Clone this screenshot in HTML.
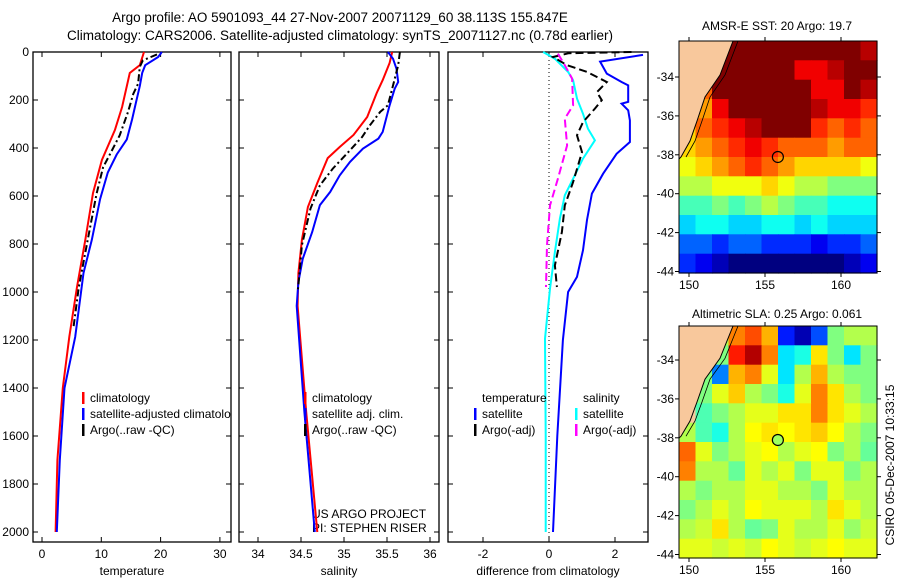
<!DOCTYPE html>
<html><head><meta charset="utf-8"><style>
body{margin:0;background:#fff;}
svg text{font-family:"Liberation Sans",sans-serif;font-size:12px;fill:#000;}
</style></head><body>
<svg id="c" width="900" height="580" xmlns="http://www.w3.org/2000/svg">
<defs><clipPath id="p1clip"><rect x="33" y="52" width="198" height="490"/></clipPath></defs>
<text x="340" y="22" text-anchor="middle" style="font-size:13.5px">Argo profile: AO 5901093_44 27-Nov-2007 20071129_60 38.113S 155.847E</text>
<text x="340" y="40" text-anchor="middle" style="font-size:13.5px">Climatology: CARS2006. Satellite-adjusted climatology: synTS_20071127.nc (0.78d earlier)</text>
<text x="777" y="30" text-anchor="middle">AMSR-E SST: 20 Argo: 19.7</text>
<text x="777" y="318" text-anchor="middle">Altimetric SLA: 0.25 Argo: 0.061</text>
<text transform="translate(894,465) rotate(-90)" text-anchor="middle">CSIRO 05-Dec-2007 10:33:15</text>
<text x="312" y="518">US ARGO PROJECT</text>
<text x="312" y="532">PI: STEPHEN RISER</text>
</svg>
<script>
// ---- data ----
const depthTicks=[0,200,400,600,800,1000,1200,1400,1600,1800,2000];
const tempTicks=[0,10,20,30];
const salTicks=[34,34.5,35,35.5,36];
const diffTicks=[-2,0,2];
const tempClimD=[0,55,87,229,325,450,588,783,979,1187,1400,1700,2000];
const tempClim=[17.2,16.5,14.8,13.5,12.3,10.1,8.6,7.3,5.9,4.6,3.5,2.6,2.3];
const tempSatD=[0,21,55,87,142,204,281,364,427,502,613,783,921,1187,1400,1700,2000];
const tempSat=[20.2,19.6,17.4,16.9,16.5,15.9,15.2,14.3,12.6,11.1,9.8,8.4,7.0,5.6,3.8,3.0,2.5];
const tempArgoD=[10,35,62,132,174,250,347,424,480,590,770,980,1150];
const tempArgo=[19.4,17.0,16.5,16.2,15.4,14.5,13.1,11.5,10.3,9.2,7.8,6.2,5.3];
const salClimD=[0,46,117,171,271,346,396,442,546,646,783,921,1058,1500,2000];
const salClim=[35.56,35.53,35.45,35.38,35.27,35.11,34.95,34.81,34.69,34.58,34.51,34.47,34.46,34.56,34.69];
const salSatD=[0,28,70,125,153,222,333,361,403,458,514,583,638,750,862,958,1058,1500,2000];
const salSat=[35.51,35.57,35.61,35.63,35.59,35.53,35.45,35.40,35.22,35.07,34.95,34.84,34.72,34.63,34.52,34.47,34.45,34.54,34.66];
const salArgoD=[0,55,153,222,250,306,354,417,486,556,652,805,972,1000];
const salArgo=[35.65,35.63,35.56,35.51,35.42,35.30,35.21,35.05,34.87,34.72,34.61,34.51,34.47,34.46];
const dTSatD=[12,40,90,125,139,208,215,243,285,375,424,507,590,700,826,937,1000,1200,1600,2000];
const dTSat=[2.85,1.55,1.75,2.2,2.4,2.4,2.2,2.4,2.45,2.45,2.05,1.64,1.3,1.15,1.03,0.85,0.58,0.42,0.25,0.12];
const dSSatD=[0,28,83,118,194,257,319,368,444,528,597,694,833,986,1194,1600,2000];
const dSSat=[-0.18,0.18,0.58,0.73,0.85,1.03,1.18,1.39,1.03,0.73,0.48,0.33,0.18,0.03,-0.12,-0.1,-0.1];
const dTArgoD=[0,5,21,55,83,125,167,201,236,292,347,417,542,639,750,889,979];
const dTArgo=[2.5,0.6,0.12,0.55,1.15,1.75,1.45,1.6,1.39,1.03,0.85,1.0,0.73,0.48,0.39,0.18,0.24];
const dSArgoD=[7,55,111,222,278,389,528,639,805,979];
const dSArgo=[0.27,0.48,0.7,0.73,0.48,0.55,0.27,0.03,-0.06,-0.09];
const lonTicks=[150,155,160];
const latTicks=[-34,-36,-38,-40,-42,-44];
const sstGrid=[
[null,null,21,21,21,21,21,21,21,21,21,20.5],
[null,null,21,21,21,21,21,20,20,20.5,21,21],
[null,19,21,21,21,21,21,21,20,20,21,20.5],
[null,18.5,20,21,21,21,21,21,20.5,20,20,19.5],
[18,19,19.5,20,20.5,21,21,21,19.5,19,19.5,19],
[18,18.5,19,19.5,20,19.5,19,19,19,18.5,19,19],
[17.5,18,18.5,19,19.5,19,18.5,18,18,18,18,17.5],
[17,17,17.5,17.5,17.5,18,17.5,17,17,16.5,16.5,16.5],
[16,16,16.5,16,16.5,17,16.5,16,16,15.5,15.5,15.5],
[15,15.5,15.5,15,15,15.5,15.5,15,15.5,15,15,15],
[14,14,13.5,14,14,13.5,13.5,13.5,13,13.5,13.5,14],
[13.5,13,12.5,12,12,11.5,11.5,12,12,12,12.5,13]];
const slaGrid=[
[null,null,0.1,0.5,0.6,0.4,-0.7,-0.9,-0.6,0,0.1,0.1],
[null,null,0,0.7,0.9,0.5,-0.3,-0.2,0.3,0,-0.3,0],
[null,0,-0.5,0.4,0.5,0.2,-0.3,0.1,0.4,0.1,0,0],
[null,0,0.2,0.35,0.1,0,-0.2,0.2,0.5,0.3,0.1,0],
[null,-0.1,0,0.1,0.2,0.2,0.3,0.3,0.5,0.3,0.2,0.1],
[0.1,-0.1,-0.2,0.1,0.25,0.3,0.25,0.3,0.35,0.25,0.1,0],
[0.55,0.2,0,0.1,0.2,0.25,0.1,0.2,0.25,0,0.1,-0.05],
[0.5,0.1,0.1,-0.05,0.2,0.1,0.2,0,0.2,0.2,0,0.1],
[0.1,0,0.1,0.1,0.2,0.2,0.1,0.1,0,0.2,0.1,0.1],
[0,0.1,0.2,0.1,0.25,0.2,0.2,0.2,0.1,0.3,0.2,0.1],
[0.1,0.15,0.3,0.1,-0.05,0,0.2,0.1,0.1,0.2,0.05,0.15],
[0.2,0.2,0.15,0.2,0.15,0.25,0.2,0.15,0.2,0.25,0.2,0.2]];
const argoLon=155.847, argoLat=-38.113;

const svg=document.getElementById('c');
const NS='http://www.w3.org/2000/svg';
function mk(tag,attrs,parent){const e=document.createElementNS(NS,tag);for(const k in attrs)e.setAttribute(k,attrs[k]);(parent||svg).appendChild(e);return e;}
const TOP=52,BOT=542;
const yD=d=>TOP+d*0.24;
const panels=[
 {name:'temperature-panel',l:33,r:231,x:v=>42+5.93*v,ticks:tempTicks,label:'temperature',ylab:true},
 {name:'salinity-panel',l:239,r:439,x:v=>258+86*(v-34),ticks:salTicks,label:'salinity'},
 {name:'difference-panel',l:448,r:648,x:v=>549+33*v,ticks:diffTicks,label:'difference from climatology'}];
panels.forEach(p=>{
 const g=mk('g',{});
 
 
 const fr=mk('rect',{x:p.l,y:TOP,width:p.r-p.l,height:BOT-TOP,fill:'none',stroke:'#000','stroke-width':1.3},g);
 
 
 p.ticks.forEach(t=>{const x=p.x(t);
  mk('line',{x1:x,x2:x,y1:TOP,y2:TOP+5,stroke:'#000'},g);
  mk('line',{x1:x,x2:x,y1:BOT,y2:BOT-5,stroke:'#000'},g);
  const tx=mk('text',{x:x,y:BOT+16,'text-anchor':'middle'},g);tx.textContent=t;
  
  
 });
 depthTicks.forEach(d=>{const y=yD(d);
  mk('line',{x1:p.l,x2:p.l+5,y1:y,y2:y,stroke:'#000'},g);
  mk('line',{x1:p.r,x2:p.r-5,y1:y,y2:y,stroke:'#000'},g);
  if(p.ylab){const tx=mk('text',{x:p.l-4,y:y+4,'text-anchor':'end'},g);tx.textContent=d;
   
   }
 });
 const lb=mk('text',{x:(p.l+p.r)/2,y:BOT+33,'text-anchor':'middle'},g);lb.textContent=p.label;
 
 
});
mk('line',{x1:549,x2:549,y1:TOP,y2:BOT,stroke:'#000','stroke-dasharray':'1,3','stroke-width':1});
function line(p,vals,deps,color,dash,name){
 const pts=vals.map((v,i)=>p.x(v).toFixed(1)+','+yD(deps[i]).toFixed(1)).join(' ');
 const e=mk('polyline',{points:pts,fill:'none',stroke:color,'stroke-width':2,'stroke-dasharray':dash||'none'});
 
 
}
line(panels[0],tempClim,tempClimD,'#f00','', 'temp-climatology-line');
line(panels[0],tempSat,tempSatD,'#00f','', 'temp-satellite-line');
line(panels[0],tempArgo,tempArgoD,'#000','7,3,2,3','temp-argo-line');
line(panels[1],salClim,salClimD,'#f00','', 'sal-climatology-line');
line(panels[1],salSat,salSatD,'#00f','', 'sal-satellite-line');
line(panels[1],salArgo,salArgoD,'#000','7,3,2,3','sal-argo-line');
line(panels[2],dTSat,dTSatD,'#00f','', 'diff-temp-satellite-line');
line(panels[2],dSSat,dSSatD,'#0ff','', 'diff-sal-satellite-line');
line(panels[2],dTArgo,dTArgoD,'#000','8,4','diff-temp-argo-line');
line(panels[2],dSArgo,dSArgoD,'#f0f','8,4','diff-sal-argo-line');
function leg(x,y,color,txt,name,clip){
 if(color){const m=mk('rect',{x:x,y:y-10,width:2.5,height:12,fill:color});
  
  }
 const t=mk('text',{x:x+8,y:y});t.textContent=txt;
 if(clip)t.setAttribute('clip-path','url(#p1clip)');
 
 
}
leg(82,402,'#f00','climatology','legend-climatology',1);
leg(82,418,'#00f','satellite-adjusted climatology','legend-satellite-adjusted',1);
leg(82,434,'#000','Argo(..raw -QC)','legend-argo',1);
leg(304,402,'#f00','climatology','legend2-climatology');
leg(304,418,'#00f','satellite adj. clim.','legend2-satellite');
leg(304,434,'#000','Argo(..raw -QC)','legend2-argo');
leg(474,402,null,'temperature','legend3-temperature');
leg(474,418,'#00f','satellite','legend3-temp-satellite');
leg(474,434,'#000','Argo(-adj)','legend3-temp-argo');
leg(575,402,null,'salinity','legend3-salinity');
leg(575,418,'#0ff','satellite','legend3-sal-satellite');
leg(575,434,'#f0f','Argo(-adj)','legend3-sal-argo');
// ---- maps ----
function jet(t){t=Math.max(0,Math.min(1,t));
 const r=Math.max(0,Math.min(1,1.5-Math.abs(4*t-3))),g=Math.max(0,Math.min(1,1.5-Math.abs(4*t-2))),b=Math.max(0,Math.min(1,1.5-Math.abs(4*t-1)));
 return 'rgb('+Math.round(r*255)+','+Math.round(g*255)+','+Math.round(b*255)+')';}
function map(name,top,bot,lat0,grid,vmin,vmax,land){
 const L=679,R=877;
 const lx=v=>689+15.2*(v-150);
 const ly=v=>lat0+(v+34)*-19.45;
 const g=mk('g',{});
 
 
 const rows=grid.length,cols=grid[0].length,cw=(R-L)/cols,ch=(bot-top)/rows;
 mk('rect',{x:L,y:top,width:R-L,height:bot-top,fill:'#f8c89c'},g);
 grid.forEach((row,i)=>row.forEach((v,j)=>{
  if(v===null)return;
  const c=mk('rect',{x:(L+j*cw).toFixed(1),y:(top+i*ch).toFixed(1),width:(cw+0.6).toFixed(1),height:(ch+0.6).toFixed(1),fill:jet((v-vmin)/(vmax-vmin))},g);
  
  
 }));
 const lp=land.map(p=>p[0]+','+(top+p[1])).join(' ');
 const ld=mk('polygon',{points:lp,fill:'#f8c89c',stroke:'#000','stroke-width':1},g);
 
 
 mk('polyline',{points:land.slice(1,-1).map(p=>(p[0]+5)+','+(top+p[1])).join(' '),fill:'none',stroke:'#000','stroke-width':0.8},g);
 mk('rect',{x:L,y:top,width:R-L,height:bot-top,fill:'none',stroke:'#000'},g);
 lonTicks.forEach(v=>{const x=lx(v);
  mk('line',{x1:x,x2:x,y1:bot,y2:bot+4,stroke:'#000'},g);
  mk('line',{x1:x,x2:x,y1:top,y2:top-4,stroke:'#000'},g);
  const t=mk('text',{x:x,y:bot+16,'text-anchor':'middle'},g);t.textContent=v;
  
  });
 latTicks.forEach(v=>{const y=ly(v);
  mk('line',{x1:L,x2:L-4,y1:y,y2:y,stroke:'#000'},g);
  mk('line',{x1:R,x2:R+4,y1:y,y2:y,stroke:'#000'},g);
  const t=mk('text',{x:L-5,y:y+4,'text-anchor':'end'},g);t.textContent=v;
  
  });
 return {lx,ly,g};
}
const landShape=[[679,0],[733,0],[720,34],[705,56],[697,80],[690,100],[681,116],[679,118]];
const m1=map('sst-map',41,273,77,sstGrid,12,21,landShape);
const c1=mk('circle',{cx:m1.lx(argoLon),cy:m1.ly(argoLat),r:5.5,fill:'none',stroke:'#000','stroke-width':1.2});


const m2=map('sla-map',326,558,360,slaGrid,-1,1,landShape.map(p=>[p[0],p[1]*0.95]));
const c2=mk('circle',{cx:m2.lx(argoLon),cy:m2.ly(argoLat),r:5.5,fill:jet((0.061+1)/2),stroke:'#000','stroke-width':1.2});


</script>
</body></html>
